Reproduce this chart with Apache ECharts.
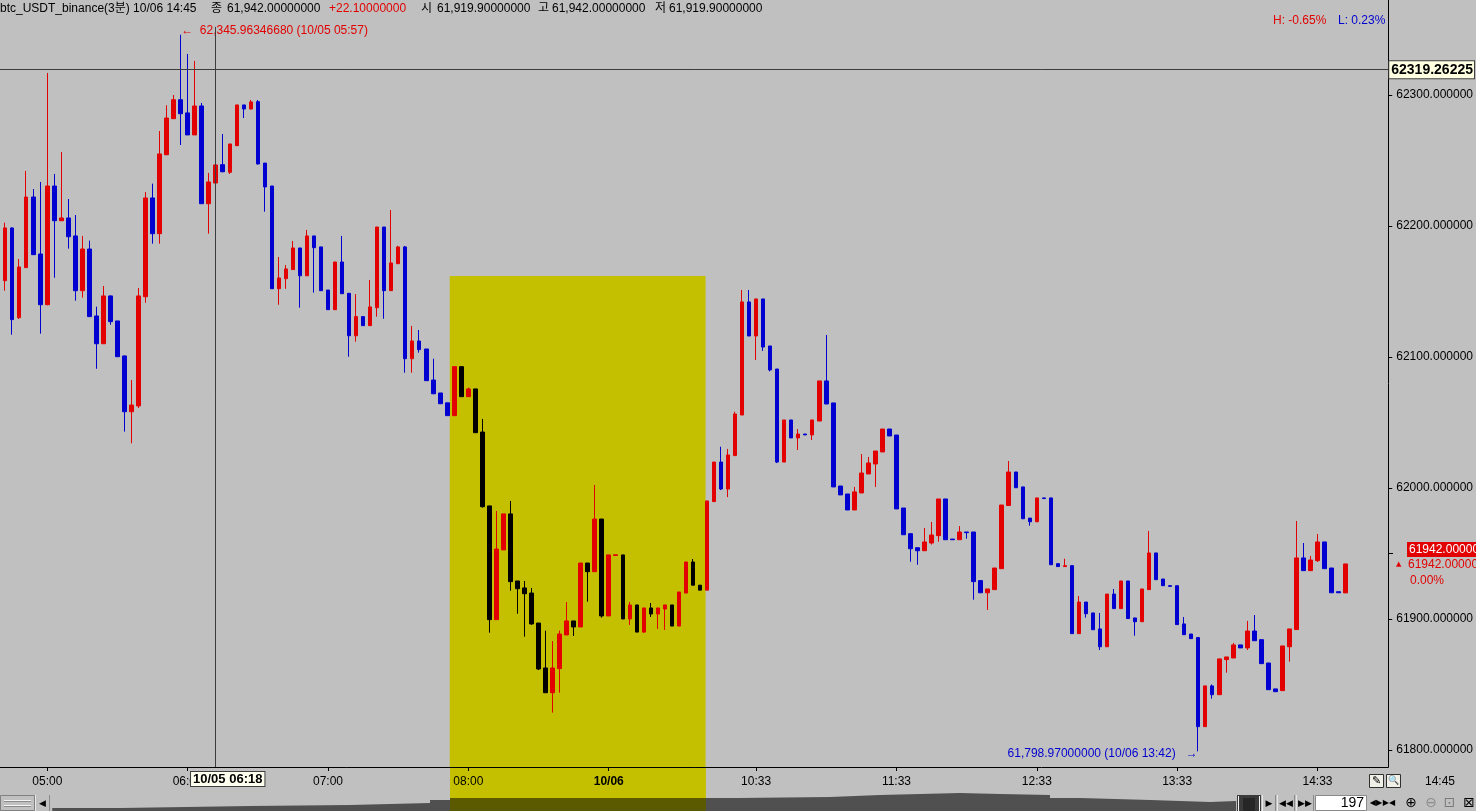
<!DOCTYPE html>
<html>
<head>
<meta charset="utf-8">
<title>btc_USDT_binance(3분)</title>
<script src="https://cdn.jsdelivr.net/npm/echarts@6.0.0/dist/echarts.min.js"></script>
<style>
	html, body { margin: 0; padding: 0; background: #c0c0c0; overflow: hidden; }
	#chart { width: 1476px; height: 811px; }
</style>
</head>
<body>
<div id="chart"></div>
<script>
// 3-minute candles, oldest first
var opens = [
	62158.2, 62198.5, 62130.0, 62168.2, 62222.1, 62178.6, 62139.9, 62230.5, 62204.0, 62206.1,
	62192.4, 62150.6, 62182.4, 62131.3, 62110.1, 62146.6, 62127.5, 62100.8, 62058.2, 62062.6,
	62146.0, 62221.4, 62194.1, 62254.4, 62281.9, 62296.4, 62286.3, 62269.5, 62291.6, 62217.0,
	62232.8, 62246.8, 62241.0, 62261.3, 62292.4, 62289.3, 62294.9, 62248.0, 62230.5, 62152.1,
	62159.8, 62166.7, 62183.2, 62162.0, 62192.4, 62184.0, 62151.1, 62136.1, 62172.5, 62148.6,
	62116.2, 62130.8, 62123.9, 62137.6, 62199.2, 62150.6, 62171.2, 62184.0, 62098.7, 62112.2,
	62106.1, 62082.4, 62072.5, 62065.0, 62055.2, 62092.6, 62069.7, 62075.6, 62042.7, 61986.3,
	61899.5, 61952.7, 61980.2, 61929.0, 61923.7, 61919.8, 61896.9, 61862.6, 61843.7, 61862.1,
	61887.8, 61898.5, 61893.9, 61942.7, 61936.1, 61976.3, 61902.3, 61948.5, 61948.9, 61900.0,
	61910.7, 61890.0, 61908.4, 61903.8, 61907.6, 61910.7, 61894.6, 61919.8, 61943.5, 61925.8,
	61922.0, 61989.6, 62019.8, 61999.2, 62024.7, 62055.7, 62142.0, 62116.0, 62144.3, 62108.4,
	62090.8, 62019.8, 62051.9, 62038.2, 62041.2, 62040.5, 62051.1, 62081.7, 62064.9, 62001.5,
	61995.4, 61983.2, 61996.2, 62010.7, 62018.3, 62027.5, 62045.0, 62040.4, 61984.7, 61965.1,
	61954.4, 61952.1, 61958.0, 61963.6, 61991.6, 61961.0, 61960.5, 61966.4, 61966.4, 61929.3,
	61920.0, 61922.4, 61938.4, 61986.6, 62012.2, 62000.8, 61977.0, 61974.2, 61992.4, 61992.4,
	61942.2, 61940.0, 61940.7, 61888.8, 61912.9, 61904.6, 61892.4, 61878.8, 61919.0, 61907.9,
	61929.0, 61900.8, 61897.9, 61922.4, 61950.4, 61930.5, 61925.4, 61925.4, 61896.2, 61888.5,
	61885.8, 61817.8, 61848.9, 61842.2, 61869.0, 61870.2, 61880.2, 61877.9, 61890.8, 61884.2,
	61866.4, 61846.6, 61845.3, 61878.8, 61891.9, 61946.6, 61936.9, 61944.5, 61958.8, 61938.9,
	61920.8, 61919.9
];
var closes = [
	62198.5, 62128.5, 62168.7, 62222.1, 62178.1, 62139.9, 62230.5, 62204.0, 62206.1, 62191.8,
	62150.6, 62182.4, 62130.8, 62110.1, 62146.6, 62127.0, 62100.2, 62058.2, 62063.3, 62146.6,
	62221.4, 62194.1, 62255.0, 62282.4, 62296.4, 62285.7, 62269.5, 62291.6, 62217.0, 62233.6,
	62246.6, 62241.4, 62262.6, 62292.4, 62289.3, 62294.7, 62247.3, 62229.8, 62152.1, 62160.3,
	62167.2, 62183.2, 62162.0, 62192.4, 62183.4, 62150.6, 62136.1, 62172.5, 62148.3, 62116.2,
	62130.8, 62123.9, 62138.2, 62199.2, 62150.6, 62171.8, 62184.0, 62098.7, 62112.2, 62105.6,
	62081.9, 62071.9, 62064.3, 62055.2, 62092.6, 62069.7, 62075.6, 62042.2, 61985.7, 61899.5,
	61953.4, 61980.2, 61928.5, 61923.1, 61919.3, 61896.2, 61861.8, 61843.7, 61862.6, 61888.5,
	61898.5, 61893.9, 61942.7, 61936.1, 61976.3, 61902.3, 61948.9, 61949.0, 61900.0, 61910.7,
	61890.0, 61908.4, 61903.8, 61908.4, 61910.7, 61894.6, 61920.6, 61943.5, 61925.8, 61922.0,
	61990.1, 62019.8, 61999.2, 62025.2, 62056.5, 62142.0, 62116.0, 62144.3, 62107.6, 62090.1,
	62019.8, 62051.9, 62038.2, 62041.2, 62040.5, 62051.9, 62081.7, 62064.1, 62000.8, 61994.7,
	61983.2, 61997.0, 62011.4, 62019.1, 62028.2, 62045.0, 62039.7, 61984.0, 61964.3, 61953.6,
	61952.1, 61958.8, 61964.1, 61991.6, 61960.5, 61960.5, 61966.4, 61965.9, 61928.5, 61920.0,
	61922.9, 61938.9, 61987.0, 62012.2, 62000.2, 61976.5, 61974.2, 61992.4, 61991.9, 61941.4,
	61940.0, 61940.7, 61888.8, 61912.9, 61904.0, 61891.8, 61878.8, 61919.0, 61907.9, 61929.0,
	61900.3, 61897.9, 61922.9, 61950.4, 61930.0, 61925.4, 61924.9, 61895.7, 61888.0, 61885.0,
	61817.8, 61848.9, 61842.2, 61869.5, 61871.0, 61880.2, 61877.9, 61890.8, 61883.4, 61865.9,
	61846.0, 61844.5, 61879.4, 61892.4, 61946.6, 61936.9, 61945.0, 61958.8, 61938.4, 61920.0,
	61920.0, 61942.0
];
var lows = [
	62150.6, 62117.0, 62129.0, 62168.0, 62178.0, 62117.8, 62139.5, 62160.5, 62204.0, 62182.7,
	62143.0, 62145.3, 62130.5, 62091.0, 62110.0, 62124.6, 62100.0, 62043.0, 62034.1, 62061.0,
	62141.4, 62186.5, 62186.5, 62254.0, 62281.9, 62261.8, 62269.5, 62269.5, 62217.0, 62194.1,
	62232.8, 62241.0, 62239.7, 62261.0, 62282.4, 62289.0, 62247.0, 62210.9, 62152.0, 62139.9,
	62152.0, 62166.7, 62137.6, 62162.0, 62149.1, 62150.6, 62136.1, 62136.1, 62148.3, 62100.2,
	62111.7, 62123.9, 62123.9, 62130.8, 62129.2, 62150.6, 62171.2, 62088.0, 62088.0, 62103.3,
	62081.9, 62071.9, 62064.3, 62055.2, 62055.2, 62069.7, 62069.7, 62042.2, 61985.0, 61889.5,
	61899.5, 61952.7, 61921.6, 61904.0, 61886.5, 61895.5, 61861.0, 61843.7, 61828.5, 61843.7,
	61887.8, 61887.0, 61893.9, 61913.2, 61936.0, 61901.0, 61902.3, 61948.5, 61900.0, 61895.4,
	61890.0, 61889.3, 61901.5, 61892.4, 61891.6, 61894.6, 61894.6, 61919.8, 61925.8, 61922.0,
	61922.0, 61989.3, 61998.4, 61993.0, 62024.7, 62055.7, 62116.0, 62097.7, 62104.6, 62089.0,
	62019.0, 62019.8, 62038.2, 62029.0, 62040.5, 62036.6, 62051.1, 62064.1, 62000.8, 61994.7,
	61983.2, 61983.2, 61996.2, 62010.7, 62000.8, 62027.5, 62039.7, 61984.0, 61964.3, 61943.7,
	61941.4, 61952.1, 61956.8, 61959.0, 61960.5, 61960.5, 61960.5, 61961.3, 61914.7, 61920.0,
	61906.9, 61922.4, 61938.4, 61986.6, 62000.2, 61976.5, 61971.2, 61974.2, 61991.9, 61941.4,
	61940.0, 61940.0, 61888.8, 61888.8, 61901.0, 61891.8, 61876.3, 61878.8, 61907.9, 61907.9,
	61900.3, 61887.2, 61897.9, 61922.4, 61930.0, 61925.4, 61924.9, 61895.7, 61888.0, 61885.0,
	61798.97, 61817.8, 61839.2, 61842.2, 61859.0, 61870.2, 61877.9, 61876.3, 61883.4, 61865.9,
	61846.0, 61844.5, 61845.3, 61867.4, 61891.9, 61936.9, 61936.9, 61943.5, 61938.4, 61920.0,
	61920.0, 61919.9
];
var highs = [
	62202.5, 62199.0, 62174.8, 62242.0, 62228.2, 62233.6, 62316.8, 62239.7, 62256.5, 62220.6,
	62208.4, 62192.4, 62188.8, 62138.4, 62154.2, 62147.0, 62127.5, 62101.0, 62082.4, 62152.7,
	62225.9, 62232.3, 62272.5, 62292.1, 62300.0, 62345.9634668, 62331.3, 62326.0, 62293.9, 62240.5,
	62256.0, 62270.2, 62262.6, 62292.4, 62292.4, 62296.2, 62296.2, 62248.0, 62230.5, 62176.3,
	62170.2, 62188.5, 62183.2, 62197.0, 62192.4, 62184.0, 62151.1, 62172.5, 62192.4, 62148.6,
	62148.0, 62130.8, 62158.8, 62199.2, 62199.2, 62212.2, 62184.8, 62184.8, 62123.7, 62120.6,
	62106.1, 62098.7, 62072.5, 62065.0, 62092.6, 62092.6, 62076.6, 62075.6, 62052.7, 61986.3,
	61982.4, 61980.2, 61990.1, 61929.0, 61929.0, 61923.7, 61896.9, 61891.1, 61883.2, 61891.1,
	61912.9, 61898.5, 61942.7, 61942.7, 62002.3, 61976.3, 61948.9, 61949.0, 61948.9, 61913.0,
	61910.7, 61908.4, 61912.2, 61908.4, 61910.7, 61910.7, 61920.6, 61943.5, 61945.8, 61925.8,
	61990.1, 62019.8, 62031.5, 62029.8, 62058.2, 62151.1, 62151.1, 62144.3, 62144.3, 62108.4,
	62090.8, 62051.9, 62051.9, 62045.0, 62041.2, 62051.9, 62081.7, 62116.8, 62064.9, 62001.5,
	61995.4, 62000.8, 62025.9, 62023.7, 62028.2, 62045.0, 62045.0, 62040.4, 61984.7, 61965.1,
	61954.4, 61969.5, 61974.0, 61991.6, 61991.6, 61961.0, 61970.9, 61966.4, 61966.4, 61929.3,
	61922.9, 61938.9, 61987.0, 62020.6, 62012.2, 62000.8, 61977.0, 61992.4, 61992.4, 61992.4,
	61942.2, 61946.0, 61940.7, 61917.5, 61912.9, 61904.6, 61904.6, 61919.0, 61922.9, 61929.0,
	61929.0, 61900.8, 61922.9, 61967.2, 61950.4, 61930.5, 61925.4, 61925.4, 61901.5, 61888.5,
	61885.8, 61848.9, 61850.0, 61869.5, 61871.0, 61881.7, 61880.2, 61898.5, 61903.0, 61884.2,
	61866.4, 61846.6, 61879.4, 61892.4, 61974.8, 61958.0, 61948.1, 61964.9, 61958.8, 61938.9,
	61920.8, 61942.0
];

// time labels on the bottom axis: [candle index, text]
var tickLabels = [
	[6, '05:00'], [26, '06:00'], [46, '07:00'], [66, '08:00'], [86, '10/06'],
	[107, '10:33'], [127, '11:33'], [147, '12:33'], [167, '13:33'], [187, '14:33']
];
var priceTicks = [61800, 61900, 62000, 62100, 62200, 62300];

var highTime = '10/05 05:57';
var lowTime = '10/06 13:42';
var crossIndex = 30;
var crossTime = '10/05 06:18';
var crossPrice = 62319.26225;
var lastTime = '14:45';
var prevClose = 61919.9;
var visibleBars = 197;

// session highlight (candle index range) and its upper price
var sessionFrom = 64;
var sessionTo = 99;
var highlightFrom = 63.35;
var highlightTo = 99.8;
var highlightTop = 62161.8;

// navigator shadow under the chart: [candle index, level]
var overviewAt = [6.7, 16.4, 34.9, 49.1, 60.5, 63.35, 99.8, 104.4, 117.5, 124.6, 136.0, 141.7, 148.8, 153.1, 163.1, 171.6, 175.3];
var overviewLevel = [3, 5, 6, 8, 11, 13, 13, 14, 16, 18, 17, 16, 13, 11, 9, 10, 11];

var UP = '#e20000';
var DOWN = '#0000d0';
var SESSION_DOWN = '#000000';
var YELLOW = '#c4c000';
var FONT = "'Liberation Sans', Arial, 'Noto Sans CJK KR', sans-serif";

var xMin = -0.74, xMax = 197.08;
var yMin = 61787, yMax = 62372.5;

function fmtPrice(v){
	return Number(v).toLocaleString('en-US', {minimumFractionDigits: 8, maximumFractionDigits: 8});
}

function tickText(v){
	var k = Math.round(v);
	for(var i=0; i<tickLabels.length; i++){
		if(tickLabels[i][0] == k){
			if(tickLabels[i][1].indexOf('/') > -1)
				return '{b|' + tickLabels[i][1] + '}';
			return tickLabels[i][1];
		}
	}
	return '';
}

var candleData = [];
var hiIdx = 0, loIdx = 0;
for(var i=0; i<opens.length; i++){
	var item = {value: [i, opens[i], closes[i], lows[i], highs[i]]};
	if(i >= sessionFrom && i <= sessionTo)
		item.itemStyle = {color0: SESSION_DOWN, borderColor0: SESSION_DOWN};
	candleData.push(item);
	if(highs[i] > highs[hiIdx]) hiIdx = i;
	if(lows[i] < lows[loIdx]) loIdx = i;
}

var overviewData = [];
var overviewSession = [];
for(var i=0; i<overviewAt.length; i++){
	overviewData.push([overviewAt[i], overviewLevel[i]]);
	if(overviewAt[i] >= highlightFrom && overviewAt[i] <= highlightTo)
		overviewSession.push([overviewAt[i], overviewLevel[i]]);
}

var last = closes[closes.length - 1];
var change = last - prevClose;
var hiPct = (last - highs[hiIdx]) / highs[hiIdx] * 100;
var loPct = (last - lows[loIdx]) / lows[loIdx] * 100;

function txt(x, y, s, color, font, align){
	return {
		type: 'text', x: x, y: y, silent: true, z: 30,
		style: {text: s, fill: color || '#000', font: font || ('12px ' + FONT), align: align || 'left', verticalAlign: 'middle'}
	};
}
function box(x, y, w, h, fill, stroke){
	return {
		type: 'rect', silent: true, z: 30,
		shape: {x: x, y: y, width: w, height: h},
		style: {fill: fill, stroke: stroke || null, lineWidth: 1}
	};
}
function vline(x, y1, y2, color){
	return {type: 'line', silent: true, z: 31, shape: {x1: x, y1: y1, x2: x, y2: y2}, style: {stroke: color, lineWidth: 1}};
}
function hline(x1, x2, y, color){
	return {type: 'line', silent: true, z: 31, shape: {x1: x1, y1: y, x2: x2, y2: y}, style: {stroke: color, lineWidth: 1}};
}
function btn(x, w, label, color){
	return [
		box(x, 795, w, 16, '#c0c0c0'),
		vline(x + 0.5, 795, 811, '#e8e8e8'),
		vline(x + w - 0.5, 795, 811, '#8a8a8a'),
		txt(x + w / 2, 803.5, label, color || '#000', '9px DejaVu Sans', 'center')
	];
}

var graphics = [
	txt(0, 9, 'btc_USDT_binance(3분) 10/06 ' + lastTime),
	txt(211, 9, '종'),
	txt(227, 9, fmtPrice(last)),
	txt(329, 9, (change >= 0 ? '+' : '') + change.toFixed(8), UP),
	txt(421, 9, '시'),
	txt(437, 9, fmtPrice(opens[opens.length - 1])),
	txt(538, 9, '고'),
	txt(552, 9, fmtPrice(highs[highs.length - 1])),
	txt(655, 9, '저'),
	txt(669, 9, fmtPrice(lows[lows.length - 1])),
	txt(1273, 21, 'H: ' + hiPct.toFixed(2) + '%', UP),
	txt(1338, 21, 'L: ' + loPct.toFixed(2) + '%', DOWN),
	// last price tags on the price scale
	box(1407, 542, 69, 15, UP),
	txt(1409, 550, last.toFixed(5), '#ffffff'),
	hline(1389, 1393, 553.5, '#000'),
	txt(1396, 564, '▲', UP, '7px DejaVu Sans'),
	txt(1408, 565, last.toFixed(5), UP),
	txt(1410, 581, '0.00%', UP),
	txt(1440, 782, lastTime, '#000', '12px ' + FONT, 'center'),
	// toolbar icons above the navigator
	box(1369.5, 774.5, 14, 13, '#f0f0e8', '#303030'),
	txt(1376.5, 781, '✎', '#000', '11px DejaVu Sans', 'center'),
	box(1386.5, 774.5, 14, 13, '#f0f0e8', '#303030'),
	txt(1393.5, 781, '🔍', '#000', '9px DejaVu Sans', 'center'),
	// navigator left end
	box(0.5, 795.5, 34, 15, '#c0c0c0', '#808080'),
	hline(4, 31, 800.5, '#f4f4f4'),
	hline(4, 31, 805.5, '#f4f4f4'),
	hline(4, 31, 801.5, '#8a8a8a'),
	hline(4, 31, 806.5, '#8a8a8a')
].concat(btn(35, 15, '◀'));

// navigator right end
graphics.push(box(1237, 795, 24, 16, '#3a3a3a'));
graphics.push(box(1243, 798, 12, 13, '#262626'));
graphics.push(vline(1238.5, 796, 811, '#f0f0f0'));
graphics.push(vline(1259.5, 796, 811, '#f0f0f0'));
graphics = graphics.concat(btn(1262, 14, '▶'), btn(1277, 18, '◀◀'), btn(1296, 18, '▶▶'));
graphics.push(box(1315.5, 795.5, 51, 15, '#ffffff', '#8a8a8a'));
graphics.push(txt(1364, 803.5, String(visibleBars), '#000', '14px ' + FONT, 'right'));
graphics = graphics.concat([
	txt(1376, 803, '◀▶', '#000', '8px DejaVu Sans', 'center'),
	txt(1389, 803, '▶◀', '#000', '8px DejaVu Sans', 'center'),
	txt(1411, 803, '⊕', '#000', '14px DejaVu Sans', 'center'),
	txt(1431, 803, '⊖', '#8a8a8a', '14px DejaVu Sans', 'center'),
	txt(1449.5, 803, '⊡', '#7a7a7a', '14px DejaVu Sans', 'center'),
	txt(1469, 803, '⊠', '#000', '14px DejaVu Sans', 'center')
]);

var chart = echarts.init(document.getElementById('chart'), null, {renderer: 'canvas'});

var option = {
	animation: false,
	backgroundColor: '#c0c0c0',
	textStyle: {fontFamily: FONT},
	tooltip: {show: false},
	grid: [
		{left: 0, right: 87, top: 0, height: 767},
		{left: 0, right: 87, top: 767, height: 44}
	],
	xAxis: [
		{
			type: 'value', gridIndex: 0, min: xMin, max: xMax, z: 10,
			splitLine: {show: false},
			axisLine: {show: true, onZero: false, lineStyle: {color: '#000', width: 1}},
			axisTick: {show: true, length: 4, customValues: tickLabels.map(function(t){ return t[0]; }), lineStyle: {color: '#000'}},
			axisLabel: {
				customValues: tickLabels.map(function(t){ return t[0]; }),
				formatter: tickText, color: '#000', fontSize: 12, margin: 9, fontFamily: FONT,
				rich: {b: {fontWeight: 'bold', fontSize: 12, fontFamily: FONT, color: '#000'}}
			}
		},
		{
			type: 'value', gridIndex: 1, min: xMin, max: xMax, show: false
		}
	],
	yAxis: [
		{
			type: 'value', gridIndex: 0, position: 'right', min: yMin, max: yMax,
			splitLine: {show: false},
			axisLine: {show: true, onZero: false, lineStyle: {color: '#000', width: 1}},
			axisTick: {show: true, length: 4, customValues: priceTicks, lineStyle: {color: '#000'}},
			axisLabel: {
				customValues: priceTicks,
				formatter: function(v){ return Number(v).toFixed(6); },
				color: '#000', fontSize: 12, margin: 8, fontFamily: FONT
			}
		},
		{
			type: 'value', gridIndex: 1, min: 0, max: 44, show: false
		}
	],
	series: [
		{
			name: 'session',
			type: 'line', xAxisIndex: 0, yAxisIndex: 0, data: [], z: 1, silent: true,
			markArea: {
				silent: true, z: 1,
				itemStyle: {color: YELLOW, opacity: 1},
				data: [[{xAxis: highlightFrom, yAxis: highlightTop}, {xAxis: highlightTo, yAxis: yMin}]]
			}
		},
		{
			name: 'btc_USDT_binance',
			type: 'candlestick', xAxisIndex: 0, yAxisIndex: 0, z: 2,
			data: candleData,
			barWidth: 4,
			itemStyle: {color: UP, color0: DOWN, borderColor: UP, borderColor0: DOWN, borderWidth: 1},
			emphasis: {disabled: true},
			markPoint: {
				symbol: 'circle', symbolSize: 1, silent: true, animation: false,
				itemStyle: {color: 'rgba(0,0,0,0)'},
				data: [
					{
						coord: [hiIdx, highs[hiIdx]],
						label: {show: true, position: 'right', distance: 0, offset: [0, -4], color: UP, fontSize: 12, fontFamily: FONT,
							formatter: '←  ' + fmtPrice(highs[hiIdx]) + ' (' + highTime + ')'}
					},
					{
						coord: [loIdx, lows[loIdx]],
						label: {show: true, position: 'left', distance: 0, offset: [0, 2], color: DOWN, fontSize: 12, fontFamily: FONT,
							formatter: fmtPrice(lows[loIdx]) + ' (' + lowTime + ')   →'}
					}
				]
			},
			markLine: {
				silent: true, animation: false, z: 20,
				symbol: ['none', 'none'],
				lineStyle: {color: '#3c3c3c', width: 1, type: 'solid'},
				data: [
					{
						yAxis: crossPrice,
						label: {show: true, position: 'end', distance: 1, formatter: crossPrice.toFixed(5),
							color: '#000', fontWeight: 'bold', fontSize: 14, fontFamily: FONT,
							backgroundColor: '#ffffe1', borderColor: '#404040', borderWidth: 1, padding: [2, 1, 1, 2]}
					},
					[
						{coord: [crossIndex, 62352]},
						{coord: [crossIndex, yMin],
							label: {show: true, position: 'end', distance: 5, offset: [12, 0], formatter: crossTime,
								color: '#000', fontWeight: 'bold', fontSize: 13, fontFamily: FONT,
								backgroundColor: '#fffff0', borderColor: '#404040', borderWidth: 1, padding: [1, 2, 0, 2]}}
					]
				]
			}
		},
		{
			name: 'navBand',
			type: 'line', xAxisIndex: 1, yAxisIndex: 1, data: [], z: 1, silent: true,
			markArea: {
				silent: true, z: 1,
				itemStyle: {color: YELLOW, opacity: 1},
				data: [[{xAxis: highlightFrom, yAxis: 0}, {xAxis: highlightTo, yAxis: 44}]]
			}
		},
		{
			name: 'navigator',
			type: 'line', xAxisIndex: 1, yAxisIndex: 1, z: 3, silent: true,
			data: overviewData, symbol: 'none', step: 'end',
			lineStyle: {width: 0},
			areaStyle: {color: '#505050', opacity: 1}
		},
		{
			name: 'navigatorSession',
			type: 'line', xAxisIndex: 1, yAxisIndex: 1, z: 4, silent: true,
			data: overviewSession, symbol: 'none', step: 'end',
			lineStyle: {width: 0},
			areaStyle: {color: '#5c5a00', opacity: 1}
		}
	],
	graphic: graphics
};

chart.setOption(option);
</script>
</body>
</html>
